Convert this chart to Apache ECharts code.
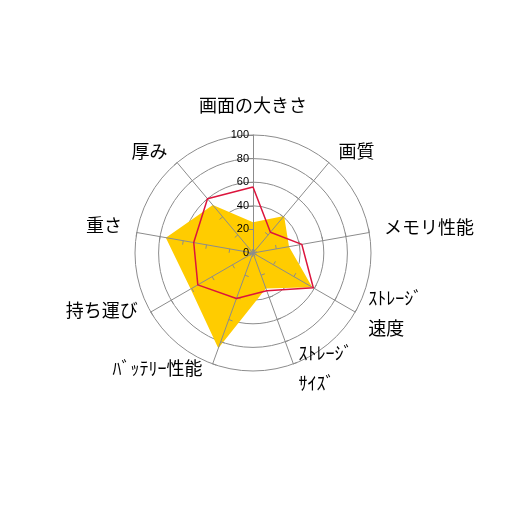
<!DOCTYPE html>
<html><head><meta charset="utf-8">
<script src="https://cdn.jsdelivr.net/npm/echarts@6/dist/echarts.min.js"></script>
<style>html,body{margin:0;padding:0;background:#fff}#c{width:506px;height:506px}</style>
</head><body><div id="c"></div>
<script>
// categories in clockwise order starting from the top
const categories = ['画面の大きさ', '画質', 'メモリ性能', 'ｽﾄﾚｰｼﾞ\n速度', 'ｽﾄﾚｰｼﾞ\nｻｲｽﾞ', 'ﾊﾞｯﾃﾘｰ性能', '持ち運び', '重さ', '厚み'];
const seriesYellow = [26, 41, 31, 58, 32, 86, 61, 75, 53];
const seriesRed = [56, 23, 42, 59, 34, 41, 54, 51, 60];
const axisMax = 100;
const tickInterval = 20;

// ECharts radar goes counter-clockwise; reorder to draw clockwise
function cw(arr) { return [arr[0]].concat(arr.slice(1).reverse()); }

// label nudges (style only): an extra blank line of a given height lifts a name
const nameLift = { 'メモリ性能': 6, 'ｽﾄﾚｰｼﾞ\n速度': 12, 'ｽﾄﾚｰｼﾞ\nｻｲｽﾞ': 19, 'ﾊﾞｯﾃﾘｰ性能': 20, '持ち運び': 18, '重さ': 10 };
const nameRightPad = { 'ﾊﾞｯﾃﾘｰ性能': 5 };

const FONT = 'Noto Sans CJK JP';
const base = { color: '#000', fontSize: 18, fontFamily: FONT, lineHeight: 30 };
const rich = { n: Object.assign({}, base) };
function fmtName(name) {
  const lines = name.split('\n');
  let tokenKey = 'n';
  if (nameRightPad[name]) {
    tokenKey = 'r' + nameRightPad[name];
    rich[tokenKey] = Object.assign({}, base, { padding: [0, nameRightPad[name], 0, 0] });
  }
  let s = lines.map(l => '{' + tokenKey + '|' + l + '}').join('\n');
  const lift = nameLift[name];
  if (lift) {
    rich['e' + lift] = { fontSize: 4, lineHeight: lift, color: 'transparent' };
    s += '\n{e' + lift + '| }';
  }
  return s;
}
// pre-build rich styles
categories.forEach(fmtName);

function makeIndicators(withLabel) {
  return cw(categories).map((name, i) => {
    const ind = { name: name, max: axisMax, min: 0 };
    if (withLabel && i === 0) {
      ind.axisLabel = { show: true, color: '#000', fontSize: 11, fontFamily: 'Liberation Sans', margin: 4 };
    }
    return ind;
  });
}

const common = {
  center: ['50%', '50%'],
  radius: 118,
  startAngle: 90,
  shape: 'circle',
  splitNumber: axisMax / tickInterval,
  nameGap: 15,
  splitArea: { show: false }
};

const chart = echarts.init(document.getElementById('c'));
chart.setOption({
  animation: false,
  radar: [
    Object.assign({}, common, {
      z: 1,
      indicator: makeIndicators(false),
      axisName: { show: false },
      axisLine: { show: false },
      axisTick: { show: false },
      axisLabel: { show: false },
      splitLine: { lineStyle: { color: '#8c8c8c', width: 1 } }
    }),
    Object.assign({}, common, {
      z: 3,
      indicator: makeIndicators(true),
      axisName: Object.assign({}, base, { formatter: fmtName, rich: rich }),
      axisLine: { lineStyle: { color: '#8c8c8c', width: 1 } },
      splitLine: { show: false },
      axisTick: { show: true, length: 4, lineStyle: { color: '#8c8c8c' } },
      axisLabel: { show: false }
    })
  ],
  series: [{
    type: 'radar',
    radarIndex: 0,
    z: 2,
    symbol: 'none',
    data: [
      { value: cw(seriesYellow), lineStyle: { width: 0, opacity: 0 }, areaStyle: { color: '#FFCC00', opacity: 1 } }
    ]
  }, {
    type: 'radar',
    radarIndex: 1,
    z: 4,
    symbol: 'none',
    data: [
      { value: cw(seriesRed), lineStyle: { color: '#DC143C', width: 1.5 } }
    ]
  }]
});
</script>
</body></html>
